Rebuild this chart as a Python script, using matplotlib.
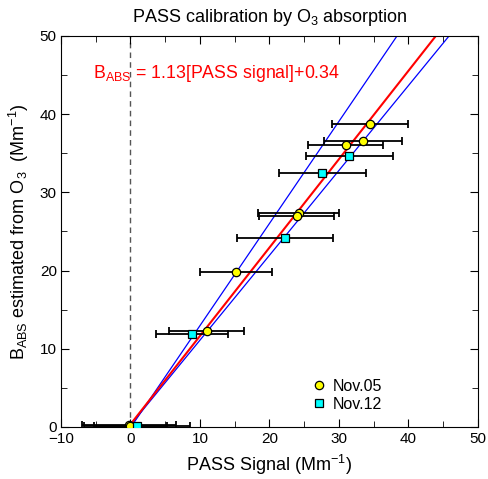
import matplotlib
matplotlib.use("Agg")
import matplotlib.pyplot as plt
import numpy as np
from matplotlib.ticker import MultipleLocator

plt.rcParams['font.family'] = ['Liberation Sans', 'DejaVu Sans']
plt.rcParams['mathtext.fontset'] = 'custom'
plt.rcParams['mathtext.rm'] = 'Liberation Sans'
plt.rcParams['mathtext.it'] = 'Liberation Sans'

# Nov.05 data
nov05_x = [34.5, 33.4, 31.0, 24.2, 23.9, 15.2, 11.0, -0.2, 0.0]
nov05_y = [38.7, 36.5, 36.0, 27.3, 27.0, 19.8, 12.3, 0.2, 0.1]
nov05_xerr = [5.5, 5.6, 5.4, 5.8, 5.4, 5.2, 5.4, 6.8, 5.3]
# Nov.12 data
nov12_x = [31.5, 27.6, 22.2, 8.9, 0.9]
nov12_y = [34.6, 32.5, 24.2, 11.9, 0.1]
nov12_xerr = [6.3, 6.3, 6.9, 5.2, 7.6]

# fit lines (slope, intercept)
fit_red = (1.13, 0.34)
fit_upper = (1.306, -0.1)
fit_lower = (1.085, 0.25)

fig = plt.figure(figsize=(4.89, 4.79), dpi=100)
ax = fig.add_axes([0.1247, 0.1086, 0.8528, 0.8166])

xl = np.linspace(0, 50, 200)
for (m, b), c in [(fit_upper, 'blue'), (fit_lower, 'blue')]:
    ax.plot(xl, m * xl + b, color=c, lw=0.9, zorder=2)
ax.plot(xl, fit_red[0] * xl + fit_red[1], color='red', lw=1.5, zorder=2)

ax.axvline(0, color='#555555', ls=(0, (4, 3)), lw=1.0, zorder=1)

ax.errorbar(nov05_x, nov05_y, xerr=nov05_xerr, fmt='none', ecolor='black',
            elinewidth=1.3, capsize=3, capthick=1.3, zorder=3)
ax.errorbar(nov12_x, nov12_y, xerr=nov12_xerr, fmt='none', ecolor='black',
            elinewidth=1.3, capsize=3, capthick=1.3, zorder=3)
ax.plot(nov05_x, nov05_y, 'o', ms=6, mfc='yellow', mec='black', mew=0.9,
        ls='none', zorder=4, label='Nov.05')
ax.plot(nov12_x, nov12_y, 's', ms=6, mfc='cyan', mec='black', mew=0.9,
        ls='none', zorder=4, label='Nov.12')

ax.set_xlim(-10, 50)
ax.set_ylim(0, 50)
ax.xaxis.set_major_locator(MultipleLocator(10))
ax.xaxis.set_minor_locator(MultipleLocator(5))
ax.yaxis.set_major_locator(MultipleLocator(10))
ax.yaxis.set_minor_locator(MultipleLocator(5))
ax.tick_params(which='both', direction='in', top=True, right=True, labelsize=11)
ax.tick_params(which='major', length=6)
ax.tick_params(which='minor', length=4)
ax.tick_params(axis='y', pad=3)

ax.set_xlabel('PASS Signal (Mm$^{\\mathregular{-1}}$)', fontsize=13, labelpad=5)
ax.set_ylabel('B$_{\\mathregular{ABS}}$ estimated from O$_3$  (Mm$^{\\mathregular{-1}}$)', fontsize=13, labelpad=6)
ax.set_title('PASS calibration by O$_3$ absorption', fontsize=13, pad=10)

ax.text(-5.4, 45.2, 'B$_{\\mathregular{ABS}}$ = 1.13[PASS signal]+0.34', color='red',
        fontsize=12.8, va='center', ha='left')

ax.legend(loc='upper left', bbox_to_anchor=(0.58, 0.14), frameon=False,
          fontsize=11.5, handletextpad=0.3, borderaxespad=0, labelspacing=0.2,
          handlelength=1.2)

fig.savefig('out.png', dpi=100)
